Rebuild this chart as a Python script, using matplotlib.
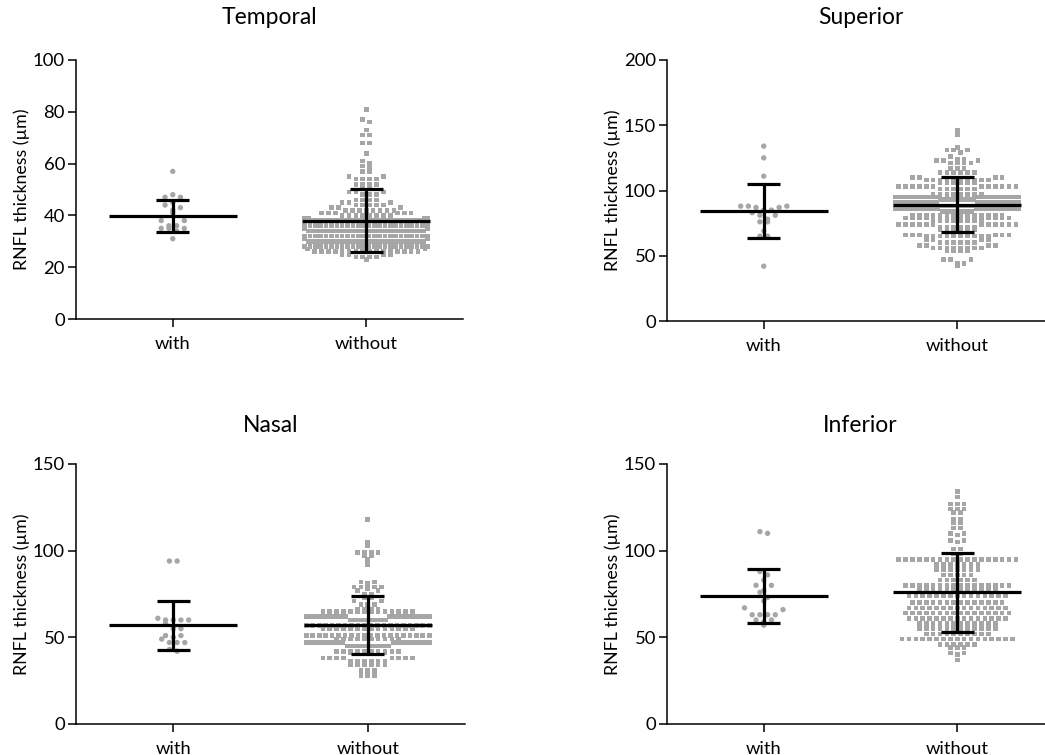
import numpy as np
import matplotlib
matplotlib.use("Agg")
import matplotlib.pyplot as plt

plt.rcParams['font.family'] = ['Lato', 'DejaVu Sans']

# ---------------- data ----------------
categories = ['with', 'without']
titles = ['Temporal', 'Superior', 'Nasal', 'Inferior']
ymax = [100, 200, 150, 150]
ystep = [20, 50, 50, 50]
ylabel = 'RNFL thickness (\u00b5m)'

temporal_with = [57, 48, 47, 47, 45, 44, 43, 42, 41, 38, 38, 36, 36, 35, 35, 35, 34, 31]
superior_with = [134, 125, 111, 88, 88, 88, 87, 87, 85, 85, 83, 81, 81, 78, 76, 76, 69, 65, 65, 42]
nasal_with = [94, 94, 61, 60, 60, 60, 60, 58, 55, 55, 51, 51, 50, 49, 47, 47, 47, 43, 42]
inferior_with = [111, 110, 88, 86, 83, 80, 80, 77, 76, 73, 71, 67, 66, 63, 63, 63, 63, 60, 60, 59, 57]

# "without" groups: row values and number of points at each value
temporal_without_vals = [81, 77, 76, 73, 71, 68, 64, 61, 60, 59, 58, 57, 55, 54, 52, 51, 49, 48, 46, 45,
                         44, 43, 42, 41, 40, 39, 38, 36, 35, 34, 32, 31, 30, 28, 27, 26, 25, 24, 23]
temporal_without_counts = [1, 1, 1, 1, 2, 2, 1, 1, 1, 1, 1, 2, 2, 4, 4, 2, 3, 3, 4, 3,
                           5, 3, 8, 6, 8, 4, 30, 24, 2, 30, 24, 2, 30, 24, 2, 16, 4, 4, 1]

superior_without_vals = [146, 143, 133, 131, 129, 126, 124, 123, 121, 117, 114, 110, 108, 106, 103, 101,
                         97, 95, 93, 91, 88, 86, 84, 81, 79, 77, 74, 72, 70, 66, 65, 62, 60, 58, 56,
                         54, 47, 44, 42]
superior_without_counts = [1, 1, 1, 3, 1, 1, 2, 3, 4, 3, 6, 4, 10, 6, 12, 6,
                           8, 24, 10, 20, 8, 22, 8, 14, 8, 8, 12, 6, 6, 6, 10, 4, 6, 4, 8,
                           4, 3, 2, 1]

nasal_without_vals = [118, 105, 103, 99, 97, 95, 92, 82, 81, 79, 78, 77, 75, 73, 71, 69, 66, 65, 62,
                      60, 57, 55, 51, 49, 47, 45, 42, 41, 38, 36, 34, 31, 28]
nasal_without_counts = [1, 1, 1, 4, 2, 1, 1, 2, 1, 4, 1, 2, 2, 2, 2, 3, 4, 14, 22,
                        10, 20, 14, 20, 10, 18, 10, 10, 6, 8, 6, 6, 3, 3]

inferior_without_vals = [134, 131, 127, 124, 122, 118, 116, 113, 110, 109, 106, 105, 101, 98, 95, 92,
                         89, 86, 83, 80, 77, 74, 70, 67, 64, 61, 58, 55, 52, 49, 46, 44, 41, 40, 37]
inferior_without_counts = [1, 1, 3, 3, 2, 2, 2, 2, 2, 1, 2, 1, 2, 2, 18, 7,
                           7, 5, 6, 16, 12, 15, 14, 15, 16, 15, 12, 12, 10, 17, 6, 3, 2, 1, 1]

# mean and SD (with, without)
means = [[39.7, 38.0], [84.2, 89.2], [56.9, 57.2], [73.8, 76.0]]
sds = [[6.3, 12.2], [20.4, 21.1], [14.3, 16.9], [15.6, 22.8]]

with_groups = [temporal_with, superior_with, nasal_with, inferior_with]
without_groups = [
    np.repeat(temporal_without_vals, temporal_without_counts),
    np.repeat(superior_without_vals, superior_without_counts),
    np.repeat(nasal_without_vals, nasal_without_counts),
    np.repeat(inferior_without_vals, inferior_without_counts),
]

# row (bin) heights in data units used for the column scatter layout
bin_with = [3.0, 6.0, 4.5, 4.5]
bin_without = [2.0, 4.0, 3.0, 3.0]

# ---------------- layout ----------------
W, H = 1045, 755
fig = plt.figure(figsize=(W / 100, H / 100), dpi=100)
rects_px = [(76, 60, 387, 259), (667, 60, 387, 261), (76, 464, 389, 260), (667, 464, 387, 260)]
title_y_px = [18, 18, 425, 425]

GRAY = '#a6a6a6'


def column_offsets(values, bin_units, s_px, half_w_px, ppu_x):
    """Prism-like column scatter: points binned in rows, lowest value at centre."""
    vals = np.asarray(values, dtype=float)
    keys = np.floor(vals / bin_units + 1e-9).astype(int)
    out = np.zeros(len(vals))
    for key in np.unique(keys):
        idx = np.where(keys == key)[0]
        idx = idx[np.argsort(vals[idx], kind='stable')]
        n = len(idx)
        sp = s_px if n <= 1 else min(s_px, 2 * half_w_px / (n - 1))
        pos = (np.arange(n) - (n - 1) / 2.0) * sp
        order = sorted(range(n), key=lambda i: (round(abs(pos[i]), 6), -pos[i]))
        for rank, pi in enumerate(order):
            out[idx[rank]] = pos[pi] / ppu_x
    return out


for k in range(4):
    lx, ty, w, hgt = rects_px[k]
    ax = fig.add_axes([lx / W, 1 - (ty + hgt) / H, w / W, hgt / H])
    ax.set_xlim(-0.5, 1.5)
    ax.set_ylim(0, ymax[k])
    ppu_x = w / 2.0

    groups = [np.asarray(with_groups[k], float), np.asarray(without_groups[k], float)]
    markers = ['o', 's']
    sizes = [15, 11]
    bins = [bin_with[k], bin_without[k]]
    spacing = [7.7, 6.9]
    for j, g in enumerate(groups):
        offs = column_offsets(g, bins[j], spacing[j], 61.5, ppu_x)
        ax.scatter(j + offs, g, marker=markers[j], s=sizes[j], color=GRAY,
                   edgecolors='none', linewidths=0, zorder=2, clip_on=False)
        m, sd = means[k][j], sds[k][j]
        ax.plot([j - 0.33, j + 0.33], [m, m], color='black', lw=2.3, zorder=4,
                solid_capstyle='butt')
        ax.plot([j, j], [m - sd, m + sd], color='black', lw=2.3, zorder=4,
                solid_capstyle='butt')
        for yv in (m - sd, m + sd):
            ax.plot([j - 0.085, j + 0.085], [yv, yv], color='black', lw=2.3, zorder=4,
                    solid_capstyle='butt')

    ax.set_xticks([0, 1])
    ax.set_xticklabels(categories, fontsize=13.2)
    ax.set_yticks(np.arange(0, ymax[k] + 1, ystep[k]))
    ax.tick_params(axis='y', labelsize=13.3, length=6, width=1.1, direction='out', pad=2)
    ax.tick_params(axis='x', length=6, width=1.1, direction='out', pad=6)
    for sp in ['top', 'right']:
        ax.spines[sp].set_visible(False)
    for sp in ['left', 'bottom']:
        ax.spines[sp].set_linewidth(1.1)
    ax.set_ylabel(ylabel, fontsize=12.8)
    ax.yaxis.set_label_coords(-46 / w, 0.5)

    fig.text((lx + w / 2) / W, 1 - title_y_px[k] / H, titles[k], ha='center', va='center',
             fontsize=16.5)

fig.savefig('out.png', dpi=100)
